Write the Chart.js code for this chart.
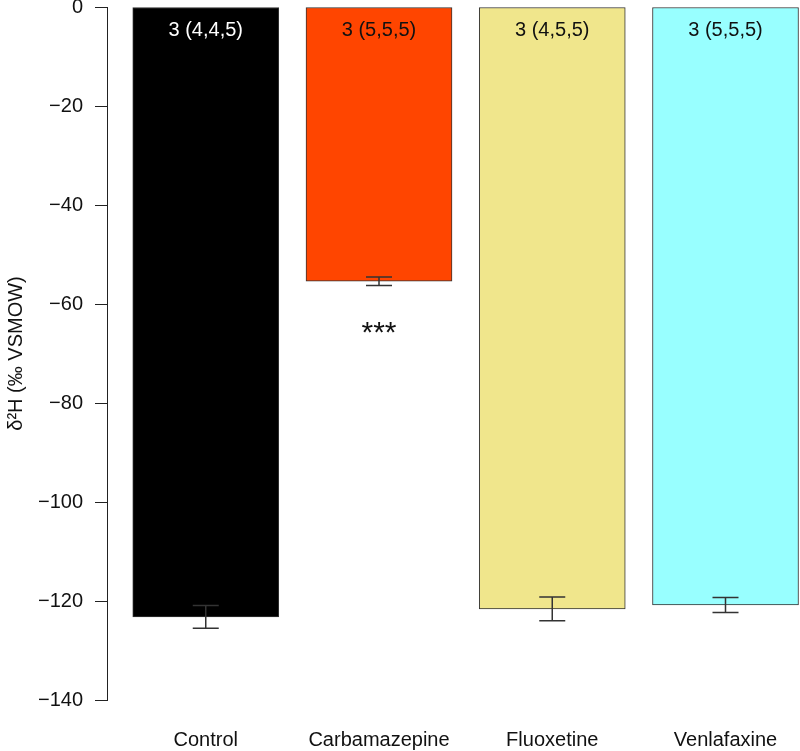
<!DOCTYPE html>
<html>
<head>
<meta charset="utf-8">
<script src="https://cdn.jsdelivr.net/npm/chart.js@4.4.1/dist/chart.umd.min.js"></script>
<style>
  html, body { margin: 0; padding: 0; background: #fff; }
  #wrap { width: 800px; height: 751px; position: relative; }
</style>
</head>
<body>
<div id="wrap"><canvas id="chart"></canvas></div>
<script>
// data
const categories = ['Control', 'Carbamazepine', 'Fluoxetine', 'Venlafaxine'];
const means = [-123.2, -55.4, -121.6, -120.8];
const errors = [2.3, 0.85, 2.4, 1.5];
const nLabels = ['3 (4,4,5)', '3 (5,5,5)', '3 (4,5,5)', '3 (5,5,5)'];
const signif = ['', '***', '', ''];
const yTicks = [0, -20, -40, -60, -80, -100, -120, -140];

const barColors = ['#000000', '#ff4500', '#f0e68c', '#98ffff'];
const labelColors = ['#ffffff', '#111111', '#111111', '#111111'];
const FONT = '"Liberation Sans", Arial, sans-serif';

// error bars, n labels and significance stars
const extras = {
  id: 'extras',
  afterDatasetsDraw(chart) {
    const { ctx, scales: { x, y } } = chart;
    ctx.save();
    ctx.strokeStyle = '#333';
    ctx.lineWidth = 1.5;
    means.forEach((m, i) => {
      const xp = x.getPixelForValue(i + 1);
      const lo = y.getPixelForValue(m - errors[i]);
      const hi = y.getPixelForValue(m + errors[i]);
      ctx.beginPath();
      ctx.moveTo(xp, lo); ctx.lineTo(xp, hi);
      ctx.moveTo(xp - 13, lo); ctx.lineTo(xp + 13, lo);
      ctx.moveTo(xp - 13, hi); ctx.lineTo(xp + 13, hi);
      ctx.stroke();

      ctx.textAlign = 'center';
      ctx.textBaseline = 'middle';
      ctx.font = '20px ' + FONT;
      ctx.fillStyle = labelColors[i];
      ctx.fillText(nLabels[i], xp, y.getPixelForValue(0) + 23);

      if (signif[i]) {
        ctx.font = '30px ' + FONT;
        ctx.fillStyle = '#111';
        ctx.fillText(signif[i], xp, lo + 48);
      }
    });
    ctx.restore();
  }
};

new Chart(document.getElementById('chart'), {
  type: 'bar',
  data: {
    datasets: [{
      data: means.map((m, i) => ({ x: i + 1, y: m })),
      backgroundColor: barColors,
      borderColor: '#333',
      borderWidth: 1,
      borderSkipped: false,
      barThickness: 146,
    }]
  },
  options: {
    responsive: true,
    maintainAspectRatio: false,
    animation: false,
    devicePixelRatio: 1,
    layout: { padding: { top: 7, right: 0, bottom: 0, left: 0 } },
    plugins: { legend: { display: false }, tooltip: { enabled: false } },
    scales: {
      x: {
        type: 'linear',
        offset: false,
        min: 0.43,
        max: 4.43,
        grid: { display: false },
        border: { display: false },
        afterBuildTicks: (s) => { s.ticks = categories.map((c, i) => ({ value: i + 1 })); },
        afterFit: (s) => { s.height = 51; s.paddingLeft = 0; s.paddingRight = 0; },
        ticks: {
          color: '#111',
          font: { family: FONT, size: 20 },
          padding: 20,
          maxRotation: 0,
          autoSkip: false,
          callback: (v) => categories[v - 1] || '',
        }
      },
      y: {
        min: -140,
        max: 0,
        afterBuildTicks: (s) => { s.ticks = yTicks.map(v => ({ value: v })); },
        afterFit: (s) => { s.width = 107; s.paddingTop = 0; s.paddingBottom = 0; },
        grid: {
          display: true,
          drawOnChartArea: false,
          drawTicks: true,
          tickLength: 12,
          color: '#222',
          lineWidth: 1,
        },
        border: { display: true, color: '#222', width: 1 },
        ticks: {
          color: '#111',
          font: { family: FONT, size: 20 },
          padding: 12,
          callback: (v) => v === 0 ? '0' : '\u2212' + Math.abs(v),
        },
        title: {
          display: true,
          text: '\u03b4\u00b2H (\u2030 VSMOW)',
          color: '#111',
          font: { family: FONT, size: 20 },
          padding: { top: 4, bottom: 0 },
        }
      }
    }
  },
  plugins: [extras]
});
</script>
</body>
</html>
